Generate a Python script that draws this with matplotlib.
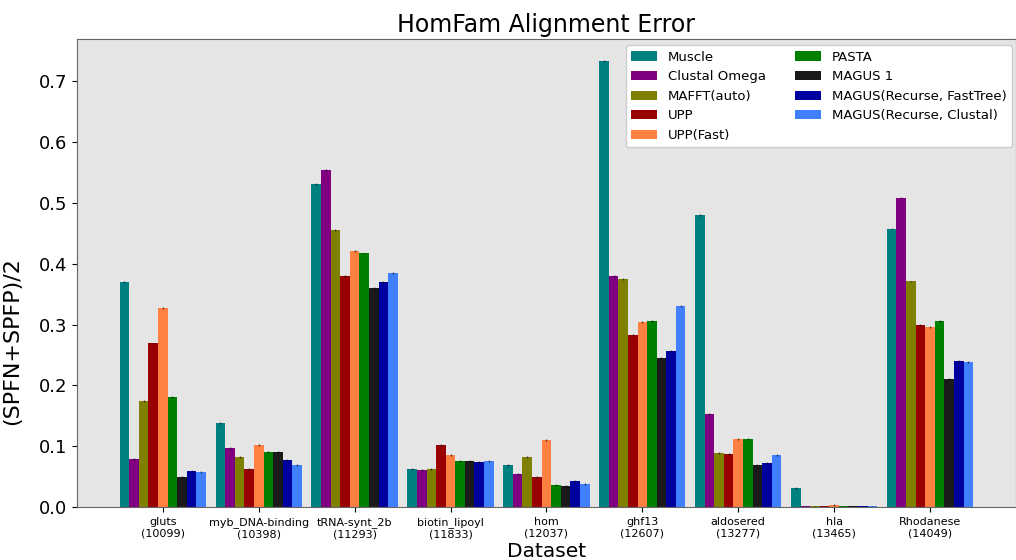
import matplotlib
matplotlib.use("Agg")
import matplotlib.pyplot as plt
import numpy as np

datasets = ["gluts", "myb_DNA-binding", "tRNA-synt_2b", "biotin_lipoyl", "hom",
            "ghf13", "aldosered", "hla", "Rhodanese"]
sizes = ["10099", "10398", "11293", "11833", "12037", "12607", "13277", "13465", "14049"]

methods = ["Muscle", "Clustal Omega", "MAFFT(auto)", "UPP", "UPP(Fast)",
           "PASTA", "MAGUS 1", "MAGUS(Recurse, FastTree)", "MAGUS(Recurse, Clustal)"]
colors = ["#008080", "#800080", "#808000", "#990000", "#ff8040",
          "#008000", "#1a1a1a", "#0000a0", "#4080ff"]

muscle      = [0.370, 0.138, 0.531, 0.062, 0.069, 0.733, 0.480, 0.031, 0.458]
clustal     = [0.079, 0.097, 0.554, 0.061, 0.054, 0.380, 0.153, 0.001, 0.509]
mafft       = [0.174, 0.082, 0.455, 0.062, 0.082, 0.375, 0.089, 0.001, 0.371]
upp         = [0.269, 0.062, 0.380, 0.102, 0.049, 0.283, 0.087, 0.001, 0.299]
upp_fast    = [0.327, 0.102, 0.421, 0.085, 0.110, 0.304, 0.112, 0.003, 0.296]
pasta       = [0.181, 0.090, 0.417, 0.076, 0.036, 0.306, 0.112, 0.001, 0.306]
magus1      = [0.049, 0.090, 0.360, 0.076, 0.035, 0.245, 0.069, 0.001, 0.210]
magus_ft    = [0.059, 0.077, 0.370, 0.074, 0.043, 0.256, 0.072, 0.001, 0.240]
magus_cl    = [0.057, 0.069, 0.385, 0.076, 0.038, 0.330, 0.085, 0.001, 0.238]
series = [muscle, clustal, mafft, upp, upp_fast, pasta, magus1, magus_ft, magus_cl]
err = 0.0015

fig = plt.figure(figsize=(10.16, 5.6), dpi=100)
ax = fig.add_axes([0.0758, 0.0946, 0.924, 0.836])
ax.set_facecolor("#e5e5e5")

x = np.arange(len(datasets))
w = 0.1
for i, (name, vals, c) in enumerate(zip(methods, series, colors)):
    ax.bar(x + (i - 4) * w, vals, w, color=c, label=name,
           yerr=err, error_kw=dict(ecolor="black", elinewidth=1, alpha=0.6))

ax.set_ylim(0, 0.77)
ax.set_yticks([0.0, 0.1, 0.2, 0.3, 0.4, 0.5, 0.6, 0.7])
ax.tick_params(axis="y", labelsize=13)
ax.set_xticks(x)
ax.set_xticklabels([f"{d}\n({s})" for d, s in zip(datasets, sizes)], fontsize=8)
for s in ax.spines.values():
    s.set_color("#666666")
ax.set_title("HomFam Alignment Error", fontsize=17, pad=5)
ax.set_ylabel("(SPFN+SPFP)/2", fontsize=16)
ax.yaxis.set_label_coords(-0.058, 0.354)
ax.set_xlabel("Dataset", fontsize=14.5, labelpad=2)
ax.legend(ncol=2, loc="upper right", fontsize=9.5, frameon=True, framealpha=1.0,
          bbox_to_anchor=(0.9957, 0.986), borderaxespad=0, handlelength=2.0,
          columnspacing=2.2)

fig.savefig("out.png", dpi=100)
